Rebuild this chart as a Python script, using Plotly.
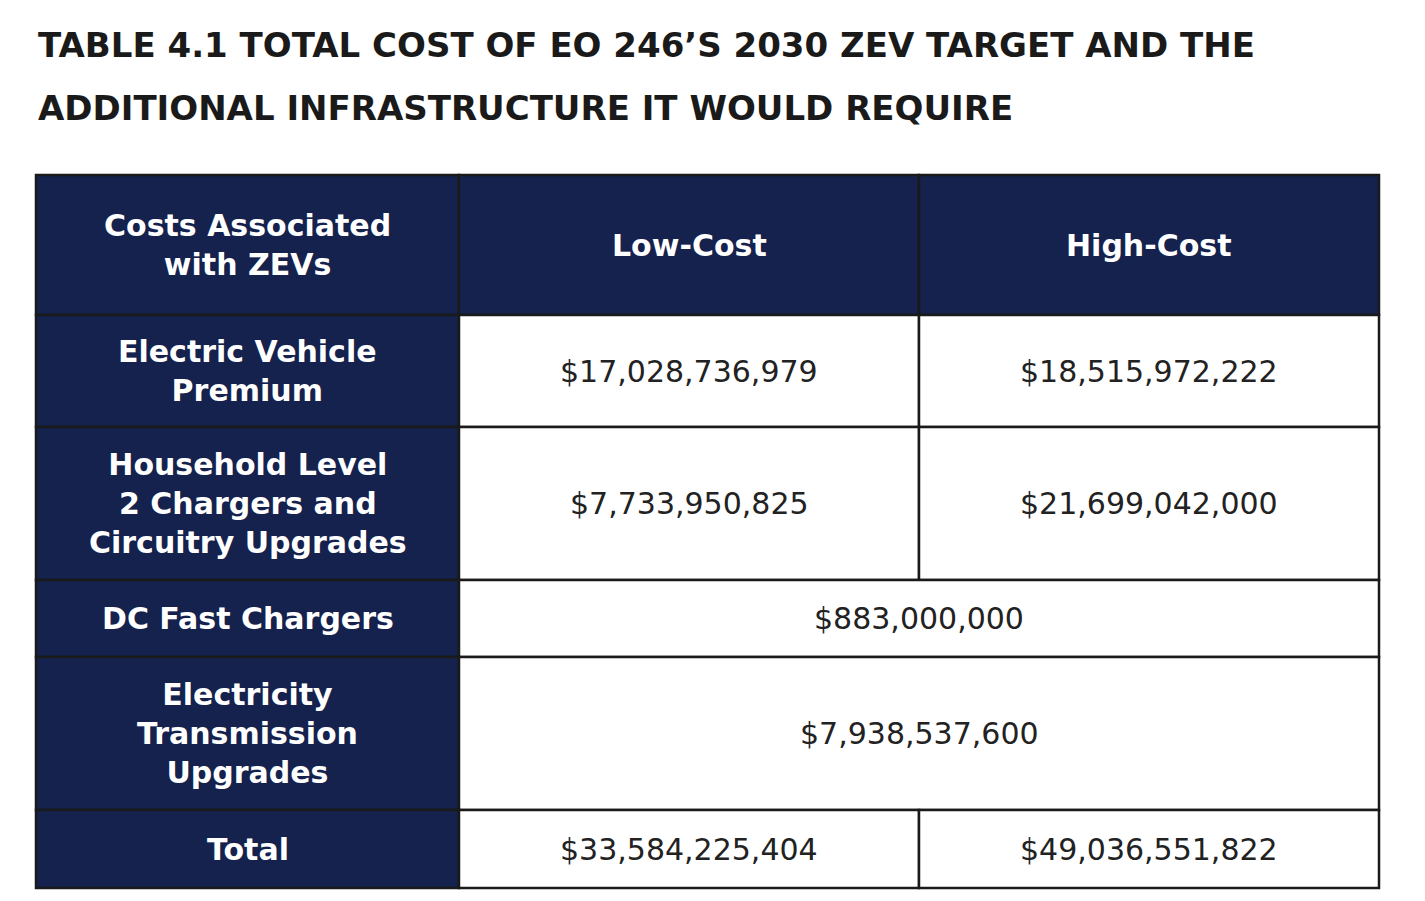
import plotly.graph_objects as go

# table content
title_lines = ["TABLE 4.1 TOTAL COST OF EO 246’S 2030 ZEV TARGET AND THE",
               "ADDITIONAL INFRASTRUCTURE IT WOULD REQUIRE"]
header = ["Costs Associated<br>with ZEVs", "Low-Cost", "High-Cost"]
row_labels = ["Electric Vehicle<br>Premium",
              "Household Level<br>2 Chargers and<br>Circuitry Upgrades",
              "DC Fast Chargers",
              "Electricity<br>Transmission<br>Upgrades",
              "Total"]
low_cost = ["$17,028,736,979", "$7,733,950,825", "$883,000,000", "$7,938,537,600", "$33,584,225,404"]
high_cost = ["$18,515,972,222", "$21,699,042,000", None, None, "$49,036,551,822"]

# geometry (pixel-like coordinates)
col_edges = [28, 451, 911, 1371]
row_edges = [167, 307, 419, 572, 649, 802, 880]

NAVY = "#15224d"
LINE = "#1a1a1a"
FONT = "DejaVu Sans"

fig = go.Figure()
shapes = []
annotations = []

for i, line in enumerate(title_lines):
    annotations.append(dict(x=28, y=37 + i * 63, text="<b>%s</b>" % line, showarrow=False,
                            xanchor="left", yanchor="middle",
                            font=dict(family=FONT, size=34, color="#1a1a1a")))


def cell(x0, x1, y0, y1, fill, text, bold, color):
    shapes.append(dict(type="rect", x0=x0, x1=x1, y0=y0, y1=y1, fillcolor=fill,
                       line=dict(color=LINE, width=2.5), layer="below"))
    if text is not None:
        annotations.append(dict(x=(x0 + x1) / 2, y=(y0 + y1) / 2,
                                text="<b>%s</b>" % text if bold else text,
                                showarrow=False, xanchor="center", yanchor="middle",
                                font=dict(family=FONT, size=30, color=color)))


# header row
for c in range(3):
    cell(col_edges[c], col_edges[c + 1], row_edges[0], row_edges[1], NAVY, header[c], True, "white")

# body rows
for r, label in enumerate(row_labels):
    y0, y1 = row_edges[r + 1], row_edges[r + 2]
    cell(col_edges[0], col_edges[1], y0, y1, NAVY, label, True, "white")
    if high_cost[r] is None:
        cell(col_edges[1], col_edges[3], y0, y1, "white", low_cost[r], False, "#222222")
    else:
        cell(col_edges[1], col_edges[2], y0, y1, "white", low_cost[r], False, "#222222")
        cell(col_edges[2], col_edges[3], y0, y1, "white", high_cost[r], False, "#222222")

fig.update_layout(
    width=1425, height=901,
    margin=dict(l=0, r=0, t=0, b=0),
    plot_bgcolor="white", paper_bgcolor="white",
    xaxis=dict(range=[0, 1425], visible=False, fixedrange=True),
    yaxis=dict(range=[901, 0], visible=False, fixedrange=True),
    shapes=shapes, annotations=annotations, showlegend=False,
)

fig.write_html("out.html")
